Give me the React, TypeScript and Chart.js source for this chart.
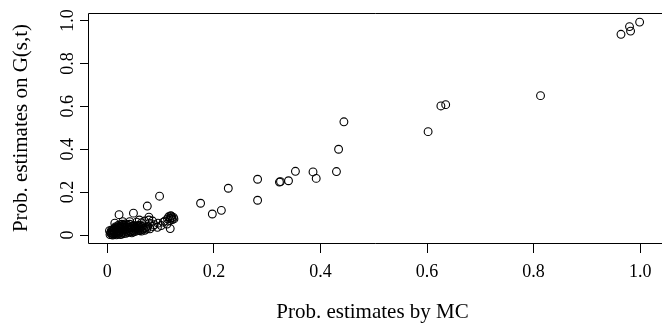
import React, { useEffect, useRef } from "react";
import { Chart, registerables } from "chart.js";

Chart.register(...registerables);

const xTickValues = [0, 0.2, 0.4, 0.6, 0.8, 1.0];
const xTickLabels = ["0", "0.2", "0.4", "0.6", "0.8", "1.0"];
const yTickValues = [0, 0.2, 0.4, 0.6, 0.8, 1.0];
const yTickLabels = ["0", "0.2", "0.4", "0.6", "0.8", "1.0"];

const xTitle = "Prob. estimates by MC";
const yTitle = "Prob. estimates on G(s,t)";

// MC estimates (x) and G(s,t) estimates (y)
const mcEstimates = [
  // dense cluster near origin
  0.005, 0.008, 0.010, 0.010, 0.012, 0.013, 0.015, 0.016, 0.017, 0.018,
  0.020, 0.020, 0.022, 0.023, 0.025, 0.025, 0.027, 0.028, 0.030, 0.030,
  0.032, 0.033, 0.035, 0.036, 0.037, 0.039, 0.040, 0.041, 0.043, 0.044,
  0.046, 0.047, 0.048, 0.050, 0.051, 0.052, 0.054, 0.055, 0.057, 0.058,
  0.060, 0.061, 0.063, 0.065, 0.066, 0.068, 0.070, 0.072, 0.074, 0.076,
  0.007, 0.012, 0.018, 0.024, 0.006, 0.009,
  0.011, 0.014, 0.019, 0.021, 0.026, 0.029, 0.031, 0.034, 0.038, 0.042,
  0.045, 0.049, 0.053, 0.056, 0.059, 0.062, 0.015, 0.020, 0.027, 0.034,
  0.004, 0.008, 0.013, 0.017, 0.022, 0.028, 0.036, 0.044, 0.052, 0.064,
  // scattered low points
  0.014, 0.029, 0.042, 0.064, 0.079, 0.080, 0.022, 0.049, 0.075, 0.078,
  0.098, 0.101, 0.112, 0.118, 0.094, 0.085, 0.088, 0.095, 0.105, 0.108,
  0.070, 0.060, 0.055, 0.085, 0.078,
  // cluster near 0.12
  0.115, 0.118, 0.120, 0.122, 0.124, 0.117, 0.121, 0.125, 0.113, 0.119,
  // middle
  0.175, 0.197, 0.214, 0.227, 0.282, 0.282, 0.323, 0.325, 0.340, 0.353,
  0.386, 0.392, 0.430, 0.434, 0.444,
  // upper
  0.602, 0.626, 0.635, 0.813,
  0.964, 0.980, 0.982, 0.999,
];

const gEstimates = [
  0.002, 0.004, 0.000, 0.008, 0.003, 0.012, 0.006, 0.015, 0.001, 0.010,
  0.004, 0.020, 0.008, 0.014, 0.002, 0.025, 0.010, 0.018, 0.006, 0.030,
  0.013, 0.022, 0.008, 0.017, 0.028, 0.012, 0.020, 0.035, 0.015, 0.026,
  0.010, 0.032, 0.020, 0.015, 0.040, 0.025, 0.018, 0.030, 0.022, 0.045,
  0.028, 0.020, 0.035, 0.025, 0.040, 0.030, 0.022, 0.035, 0.028, 0.040,
  0.015, 0.022, 0.028, 0.033, 0.010, 0.018,
  0.025, 0.030, 0.035, 0.040, 0.042, 0.045, 0.048, 0.044, 0.046, 0.050,
  0.040, 0.045, 0.036, 0.042, 0.038, 0.044, 0.038, 0.044, 0.050, 0.052,
  0.020, 0.024, 0.030, 0.028, 0.032, 0.036, 0.038, 0.034, 0.032, 0.018,
  0.055, 0.062, 0.062, 0.057, 0.055, 0.029, 0.095, 0.102, 0.135, 0.083,
  0.181, 0.044, 0.051, 0.030, 0.036, 0.040, 0.048, 0.055, 0.060, 0.065,
  0.065, 0.070, 0.060, 0.065, 0.070,
  0.085, 0.078, 0.088, 0.072, 0.082, 0.068, 0.080, 0.075, 0.075, 0.090,
  0.148, 0.098, 0.115, 0.218, 0.260, 0.162, 0.247, 0.249, 0.253, 0.297,
  0.294, 0.264, 0.296, 0.400, 0.528,
  0.482, 0.602, 0.608, 0.650,
  0.936, 0.972, 0.951, 0.993,
];

const FONT = "'Liberation Serif', 'Times New Roman', serif";

const boxPlugin = {
  id: "rbox",
  afterDraw(chart: any) {
    const { ctx, chartArea } = chart;
    ctx.save();
    ctx.strokeStyle = "#000";
    ctx.lineWidth = 1;
    ctx.beginPath();
    const l = Math.round(chartArea.left) + 0.5;
    const t = Math.round(chartArea.top) + 0.5;
    const b = Math.round(chartArea.bottom) + 0.5;
    const r = chartArea.right + 10;
    ctx.moveTo(r, t);
    ctx.lineTo(l, t);
    ctx.lineTo(l, b);
    ctx.lineTo(r, b);
    ctx.stroke();
    ctx.restore();
  },
};

export default function App() {
  const ref = useRef<HTMLCanvasElement | null>(null);

  useEffect(() => {
    document.body.style.margin = "0";
    document.body.style.overflow = "hidden";
    const canvas = ref.current;
    if (!canvas) return;
    const points = mcEstimates.map((x, i) => ({ x, y: gEstimates[i] }));
    const chart = new Chart(canvas, {
      type: "scatter",
      data: {
        datasets: [
          {
            data: points,
            pointStyle: "circle",
            pointRadius: 3.9,
            pointHoverRadius: 3.9,
            borderWidth: 1.1,
            borderColor: "#000",
            backgroundColor: "rgba(0,0,0,0)",
          },
        ],
      },
      options: {
        animation: false,
        responsive: false,
        maintainAspectRatio: false,
        events: [],
        layout: { padding: { top: 13, left: 0, right: 0, bottom: 0 } },
        plugins: {
          legend: { display: false },
          tooltip: { enabled: false },
        },
        scales: {
          x: {
            type: "linear",
            min: -0.0363,
            max: 1.0316,
            afterBuildTicks: (scale: any) => {
              scale.ticks = xTickValues.map((v) => ({ value: v }));
            },
            afterFit: (scale: any) => {
              scale.height = 84;
            },
            border: { display: false },
            grid: {
              display: true,
              drawOnChartArea: false,
              drawTicks: true,
              tickLength: 10,
              color: "#000",
              lineWidth: 1,
            },
            ticks: {
              color: "#000",
              font: { family: FONT, size: 18 },
              padding: 8,
              maxRotation: 0,
              autoSkip: false,
              callback: (_v: any, i: number) => xTickLabels[i],
            },
            title: {
              display: true,
              text: xTitle,
              color: "#000",
              font: { family: FONT, size: 21 },
              padding: { top: 0, bottom: 2 },
            },
          },
          y: {
            type: "linear",
            min: -0.0373,
            max: 1.0354,
            afterBuildTicks: (scale: any) => {
              scale.ticks = yTickValues.map((v) => ({ value: v }));
            },
            afterFit: (scale: any) => {
              scale.width = 88;
            },
            border: { display: false },
            grid: {
              display: true,
              drawOnChartArea: false,
              drawTicks: true,
              tickLength: 8,
              color: "#000",
              lineWidth: 1,
            },
            ticks: {
              color: "#000",
              font: { family: FONT, size: 18 },
              padding: 0,
              minRotation: 90,
              maxRotation: 90,
              crossAlign: "center",
              autoSkip: false,
              callback: (_v: any, i: number) => yTickLabels[i],
            },
            title: {
              display: true,
              text: yTitle,
              color: "#000",
              font: { family: FONT, size: 21 },
              padding: { top: 9, bottom: 0 },
            },
          },
        },
      },
      plugins: [boxPlugin],
    } as any);
    return () => chart.destroy();
  }, []);

  return (
    <div style={{ width: 662, height: 327 }}>
      <canvas ref={ref} width={662} height={327} style={{ display: "block" }} />
    </div>
  );
}
